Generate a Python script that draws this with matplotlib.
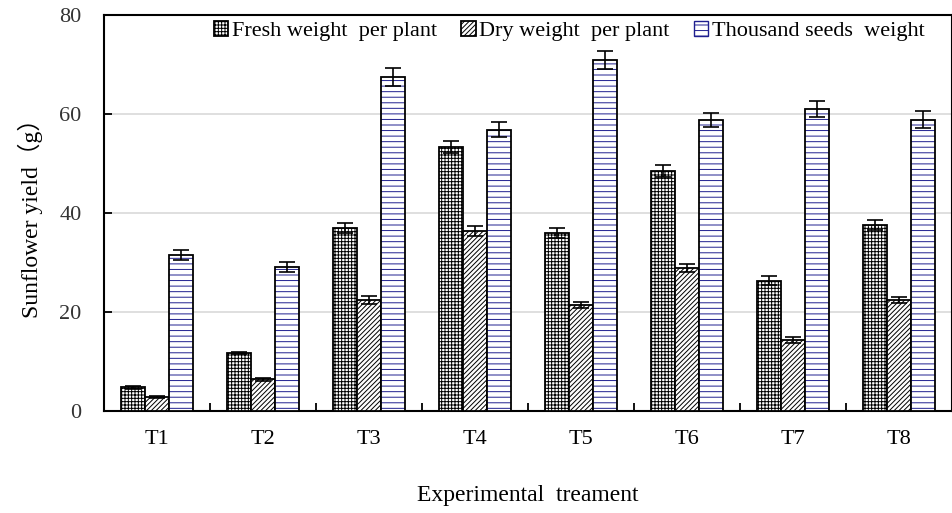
import matplotlib.pyplot as plt
import matplotlib.patches as mpatches
import numpy as np

# values
treatments = ['T1', 'T2', 'T3', 'T4', 'T5', 'T6', 'T7', 'T8']
fresh = [4.8, 11.7, 37.0, 53.3, 36.0, 48.5, 26.3, 37.6]
fresh_err = [0.3, 0.3, 1.0, 1.3, 1.0, 1.2, 0.9, 1.0]
dry = [2.8, 6.4, 22.4, 36.4, 21.4, 28.9, 14.3, 22.4]
dry_err = [0.2, 0.3, 0.8, 1.0, 0.6, 0.8, 0.6, 0.7]
seeds = [31.5, 29.1, 67.5, 56.8, 70.9, 58.8, 61.0, 58.8]
seeds_err = [1.0, 1.0, 1.8, 1.5, 1.8, 1.4, 1.7, 1.7]

plt.rcParams['font.family'] = ['Liberation Serif', 'Noto Sans CJK SC']
plt.rcParams['hatch.linewidth'] = 0.7

fig = plt.figure(figsize=(9.53, 5.13), dpi=100)
ax = fig.add_axes([0.109, 0.199, 0.89, 0.772])

x = np.arange(len(treatments))
w = 0.225
ekw = dict(ecolor='black', elinewidth=1.2, capsize=6, capthick=1.2)

b1 = ax.bar(x - w, fresh, w, color='white', edgecolor='black', hatch='+++++',
            linewidth=1.3, yerr=fresh_err, error_kw=ekw, zorder=3,
            label='Fresh weight  per plant')
b2 = ax.bar(x, dry, w, color='white', edgecolor='black', hatch='///////',
            linewidth=1.3, yerr=dry_err, error_kw=ekw, zorder=3,
            label='Dry weight  per plant')
# navy hatch lines with black outline: hatch layer then outline layer
ax.bar(x + w, seeds, w, color='white', edgecolor='#1f1f8f', hatch='---',
       linewidth=0, zorder=3)
ax.bar(x + w, seeds, w, fill=False, edgecolor='black', linewidth=1.3,
       yerr=seeds_err, error_kw=ekw, zorder=4)
b3 = mpatches.Patch(facecolor='white', edgecolor='#1f1f8f', hatch='---',
                    linewidth=1.0, label='Thousand seeds  weight')

ax.set_xlim(-0.5, 7.5)
ax.set_ylim(0, 80)
ax.set_yticks([0, 20, 40, 60, 80])
ax.yaxis.grid(True, color='#d9d9d9', linewidth=1.2, zorder=0)
ax.set_axisbelow(True)

ax.set_xticks(x)
ax.set_xticklabels(treatments)
ax.set_xticks(np.arange(0.5, 7.5, 1), minor=True)
ax.tick_params(axis='x', which='major', length=0, pad=14, labelsize=16)
ax.tick_params(axis='x', which='minor', direction='in', length=6, width=1.3)
ax.tick_params(axis='y', direction='in', length=6, width=1.3, pad=16,
               labelsize=16, labelcolor='#333333')

for s in ax.spines.values():
    s.set_linewidth(1.5)

ax.set_ylabel('Sunflower yield（g）', fontsize=17, labelpad=12)
ax.set_xlabel('Experimental  treament', fontsize=17, labelpad=26)

ax.legend(handles=[b1, b2, b3], ncol=3, frameon=False, fontsize=16,
          loc='upper left', bbox_to_anchor=(0.208, 0.99),
          bbox_transform=fig.transFigure, handlelength=0.65, handleheight=0.65,
          handletextpad=0.15, columnspacing=1.1, borderpad=0.2)

fig.savefig('out.png', dpi=100)
